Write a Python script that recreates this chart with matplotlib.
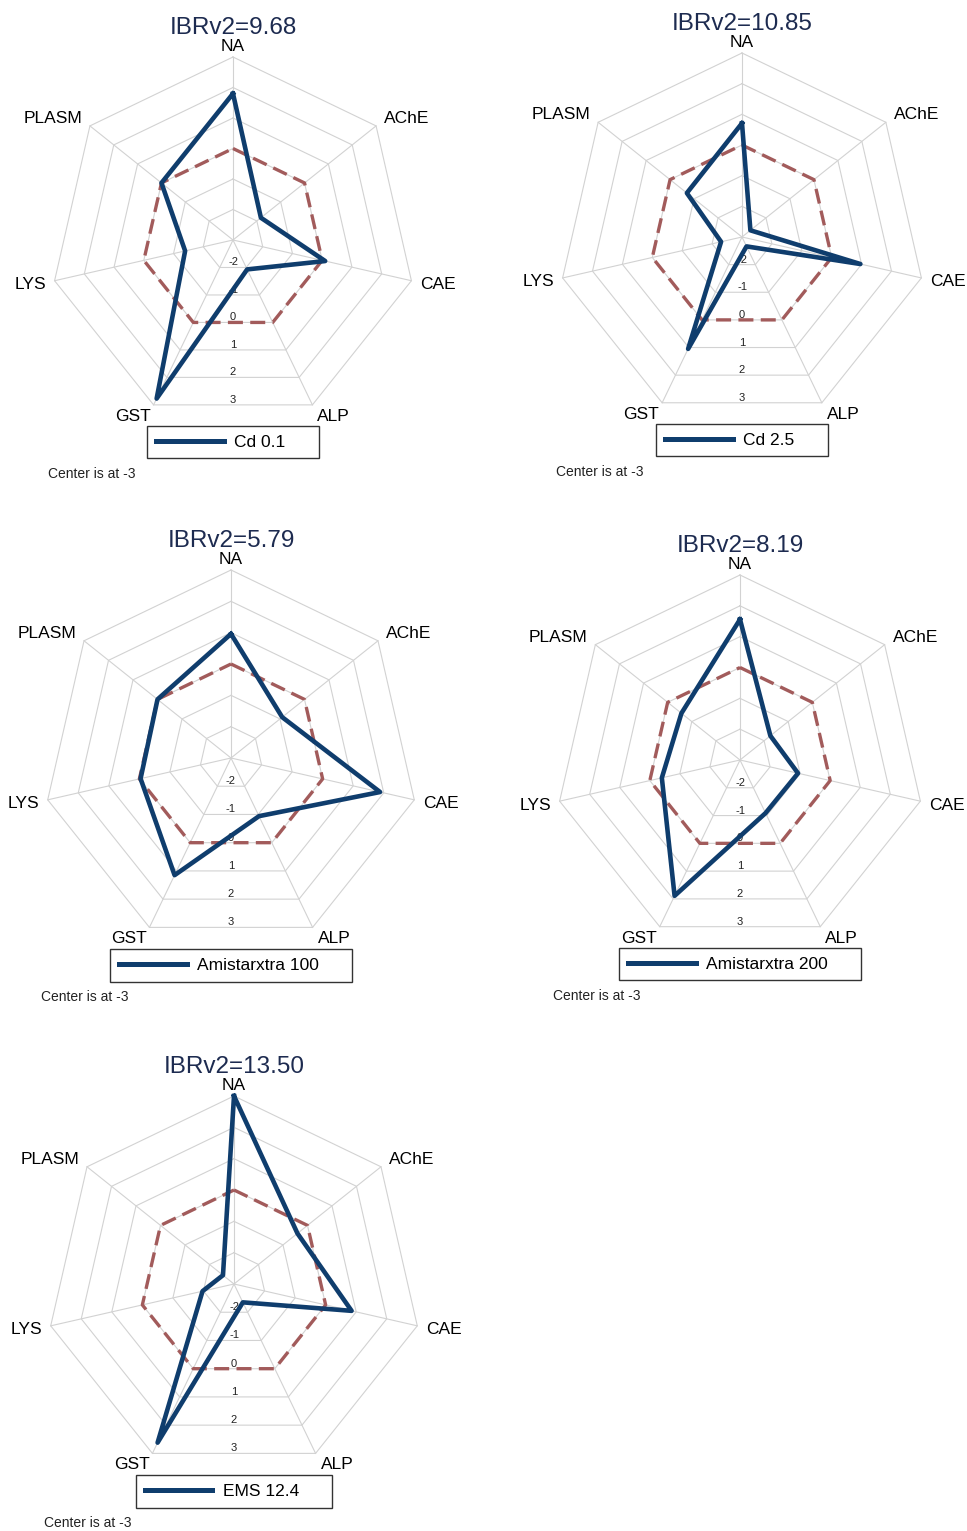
import numpy as np
import matplotlib.pyplot as plt

plt.rcParams['font.family'] = ['Liberation Sans', 'DejaVu Sans']

# biomarkers, clockwise from the top
biomarkers = ['NA', 'AChE', 'CAE', 'ALP', 'GST', 'LYS', 'PLASM']

groups = ['Cd 0.1', 'Cd 2.5', 'Amistarxtra 100', 'Amistarxtra 200', 'EMS 12.4']
ibr_v2 = [9.68, 10.85, 5.79, 8.19, 13.50]

# standardised scores
cd_01 = [1.80, -1.83, 0.10, -1.93, 2.77, -1.39, 0.00]
cd_25 = [0.71, -2.65, 0.96, -2.66, 1.05, -2.30, -0.70]
amx_100 = [0.96, -0.91, 1.88, -0.94, 1.15, -0.04, 0.00]
amx_200 = [1.56, -1.74, -1.07, -1.09, 1.89, -0.40, -0.57]
ems_124 = [3.00, -0.41, 0.85, -2.35, 2.62, -1.97, -2.55]
scores = [cd_01, cd_25, amx_100, amx_200, ems_124]

ring_levels = [-2, -1, 0, 1, 2, 3]
reference = 0
r_min, r_max = -3, 3

# panel centres / radii in pixels
W, H = 967, 1531
panels = [(233, 240, 183), (742, 237, 184), (231, 758, 188),
          (740, 760, 185), (234, 1284, 188)]

NAVY = '#0f3d6d'
TITLE = '#1d2b50'
RED = '#a25b5b'
GRID = '#d2d2d2'

# label placement: (dx, dy) in pixels, ha, va
label_pos = {
    'NA': (0, 3, 'center', 'bottom'),
    'AChE': (8, 0, 'left', 'bottom'),
    'CAE': (9, -4, 'left', 'center'),
    'ALP': (5, -4, 'left', 'top'),
    'GST': (-3, -4, 'right', 'top'),
    'LYS': (-8, -4, 'right', 'center'),
    'PLASM': (-8, 0, 'right', 'bottom'),
}

theta = np.arange(len(biomarkers)) * 2 * np.pi / len(biomarkers)
theta_c = np.append(theta, theta[0])
edge = np.cos(np.pi / len(biomarkers))

fig = plt.figure(figsize=(W / 100, H / 100), dpi=100)

for k, (cx, cy, R) in enumerate(panels):
    ax = fig.add_axes([(cx - R) / W, 1 - (cy + R) / H, 2 * R / W, 2 * R / H],
                      projection='polar')
    ax.set_theta_offset(np.pi / 2)
    ax.set_theta_direction(-1)
    ax.set_ylim(r_min, r_max)
    ax.set_axis_off()

    # heptagon web
    for lv in ring_levels:
        ax.plot(theta_c, [lv] * len(theta_c), color=GRID, lw=0.8,
                clip_on=False, zorder=1)
    for t in theta:
        ax.plot([t, t], [r_min, r_max], color=GRID, lw=0.8,
                clip_on=False, zorder=1)

    # scale labels along the bottom
    for lv in ring_levels:
        r_lab = (lv - r_min) * edge + r_min
        ax.annotate(str(lv), xy=(np.pi, r_lab), xytext=(0, 2),
                    textcoords='offset pixels', ha='center', va='baseline',
                    fontsize=8, color='#222222', zorder=2)

    ax.plot(theta_c, [reference] * len(theta_c), color=RED, lw=2.4,
            ls=(0, (4.5, 2.2)), clip_on=False, zorder=3)

    vals = scores[k] + scores[k][:1]
    ax.plot(theta_c, vals, color=NAVY, lw=3.3, clip_on=False, zorder=4,
            label=groups[k] + '     ')

    for name, t in zip(biomarkers, theta):
        dx, dy, ha, va = label_pos[name]
        ax.annotate(name, xy=(t, r_max), xytext=(dx, dy),
                    textcoords='offset pixels', ha=ha, va=va, fontsize=12.5)

    ax.annotate(f'IBRv2={ibr_v2[k]:.2f}', xy=(0, r_max), xytext=(0, 23),
                textcoords='offset pixels', ha='center', va='baseline',
                fontsize=17.5, color=TITLE)

    leg = ax.legend(loc='upper center', bbox_to_anchor=(0.5, -0.008),
                    borderaxespad=0, fontsize=12.5, handlelength=3.9,
                    handletextpad=0.6, borderpad=0.5, fancybox=False,
                    framealpha=1, edgecolor='#333333')
    leg.get_frame().set_linewidth(1.0)
    for ln in leg.get_lines():
        ln.set_linewidth(3.6)

    ax.annotate('Center is at -3', xy=(0, 0), xycoords='axes fraction',
                xytext=(-2, -55), textcoords='offset pixels',
                ha='left', va='baseline', fontsize=10, color='#222222')

fig.savefig('out.png', dpi=100)
